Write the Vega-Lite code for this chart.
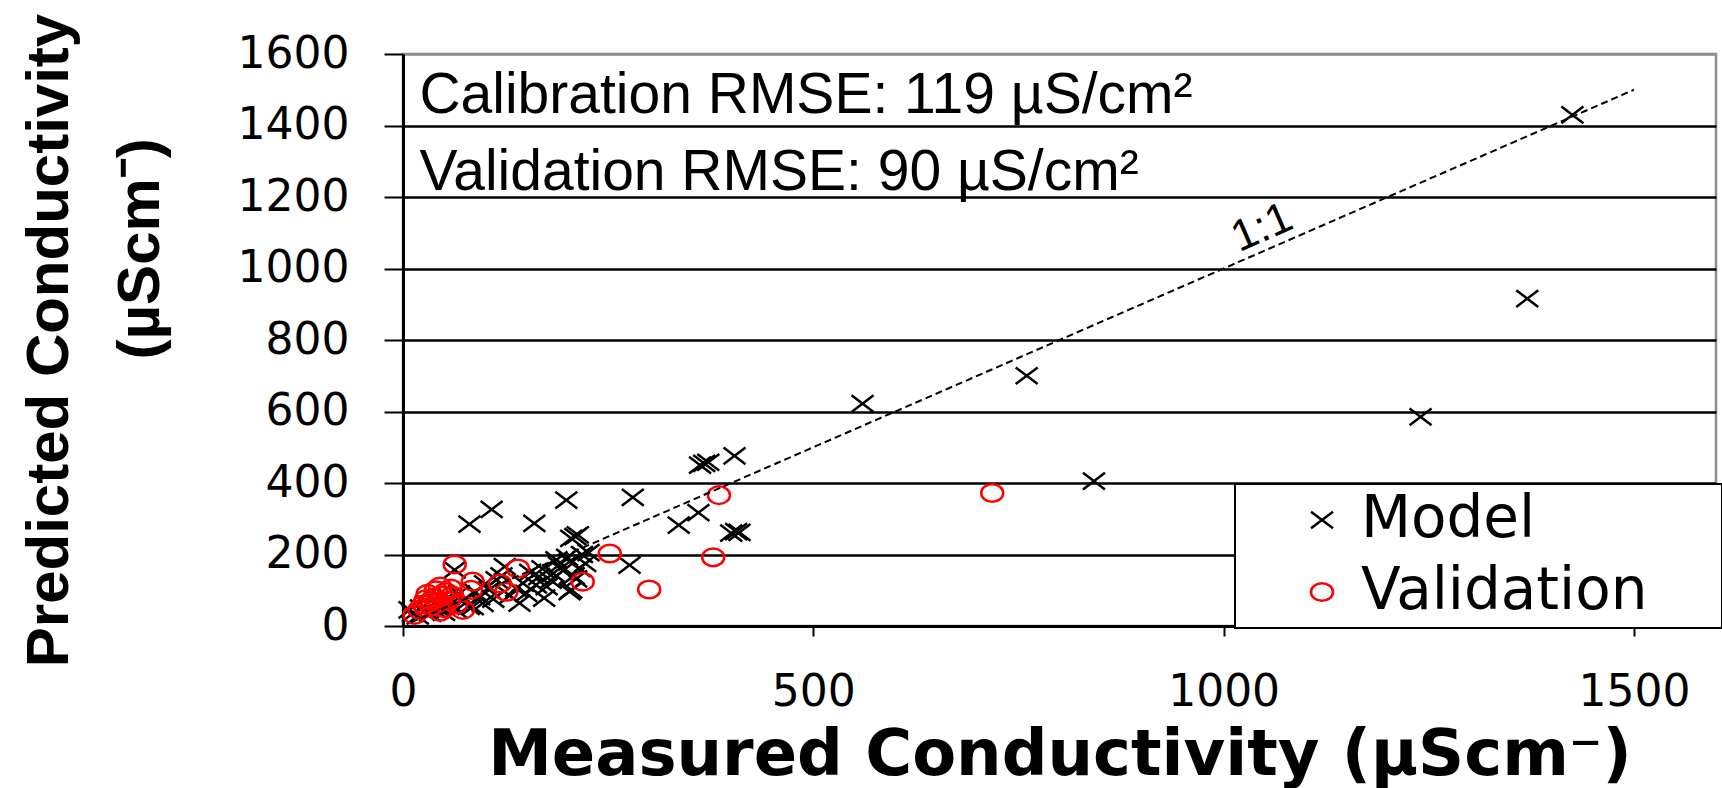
{
  "$schema": "https://vega.github.io/schema/vega-lite/v6.json",
  "width": 1313,
  "height": 572,
  "autosize": {"type": "none"},
  "padding": {"left": 403, "top": 54, "right": 6, "bottom": 162},
  "background": "white",
  "config": {
    "view": {"stroke": "#8c8c8c", "strokeWidth": 2.5},
    "legend": {"strokeWidth": 2}
  },
  "datasets": {
    "pts": [
      {"x": 1425, "y": 1430, "series": "Model"},
      {"x": 1370, "y": 916, "series": "Model"},
      {"x": 1240, "y": 585, "series": "Model"},
      {"x": 842, "y": 405, "series": "Model"},
      {"x": 760, "y": 700, "series": "Model"},
      {"x": 560, "y": 622, "series": "Model"},
      {"x": 404, "y": 476, "series": "Model"},
      {"x": 362, "y": 450, "series": "Model"},
      {"x": 367, "y": 455, "series": "Model"},
      {"x": 372, "y": 458, "series": "Model"},
      {"x": 360, "y": 317, "series": "Model"},
      {"x": 336, "y": 282, "series": "Model"},
      {"x": 400, "y": 260, "series": "Model"},
      {"x": 406, "y": 264, "series": "Model"},
      {"x": 410, "y": 262, "series": "Model"},
      {"x": 280, "y": 360, "series": "Model"},
      {"x": 276, "y": 170, "series": "Model"},
      {"x": 199, "y": 352, "series": "Model"},
      {"x": 160, "y": 287, "series": "Model"},
      {"x": 108, "y": 326, "series": "Model"},
      {"x": 81, "y": 285, "series": "Model"},
      {"x": 205, "y": 245, "series": "Model"},
      {"x": 210, "y": 250, "series": "Model"},
      {"x": 213, "y": 255, "series": "Model"},
      {"x": 203, "y": 96, "series": "Model"},
      {"x": 8, "y": 45, "series": "Model"},
      {"x": 12, "y": 35, "series": "Model"},
      {"x": 18, "y": 28, "series": "Model"},
      {"x": 22, "y": 50, "series": "Model"},
      {"x": 25, "y": 40, "series": "Model"},
      {"x": 30, "y": 62, "series": "Model"},
      {"x": 33, "y": 35, "series": "Model"},
      {"x": 38, "y": 48, "series": "Model"},
      {"x": 42, "y": 70, "series": "Model"},
      {"x": 45, "y": 55, "series": "Model"},
      {"x": 50, "y": 38, "series": "Model"},
      {"x": 55, "y": 80, "series": "Model"},
      {"x": 58, "y": 62, "series": "Model"},
      {"x": 63, "y": 157, "series": "Model"},
      {"x": 65, "y": 45, "series": "Model"},
      {"x": 68, "y": 90, "series": "Model"},
      {"x": 72, "y": 70, "series": "Model"},
      {"x": 80, "y": 55, "series": "Model"},
      {"x": 85, "y": 54, "series": "Model"},
      {"x": 88, "y": 95, "series": "Model"},
      {"x": 93, "y": 82, "series": "Model"},
      {"x": 97, "y": 63, "series": "Model"},
      {"x": 100, "y": 118, "series": "Model"},
      {"x": 105, "y": 101, "series": "Model"},
      {"x": 110, "y": 75, "series": "Model"},
      {"x": 114, "y": 129, "series": "Model"},
      {"x": 120, "y": 140, "series": "Model"},
      {"x": 124, "y": 166, "series": "Model"},
      {"x": 130, "y": 85, "series": "Model"},
      {"x": 138, "y": 105, "series": "Model"},
      {"x": 142, "y": 64, "series": "Model"},
      {"x": 146, "y": 120, "series": "Model"},
      {"x": 150, "y": 91, "series": "Model"},
      {"x": 155, "y": 150, "series": "Model"},
      {"x": 162, "y": 115, "series": "Model"},
      {"x": 166, "y": 138, "series": "Model"},
      {"x": 170, "y": 160, "series": "Model"},
      {"x": 172, "y": 78, "series": "Model"},
      {"x": 175, "y": 110, "series": "Model"},
      {"x": 180, "y": 128, "series": "Model"},
      {"x": 183, "y": 147, "series": "Model"},
      {"x": 187, "y": 185, "series": "Model"},
      {"x": 190, "y": 170, "series": "Model"},
      {"x": 195, "y": 155, "series": "Model"},
      {"x": 200, "y": 192, "series": "Model"},
      {"x": 203, "y": 180, "series": "Model"},
      {"x": 205, "y": 101, "series": "Model"},
      {"x": 208, "y": 140, "series": "Model"},
      {"x": 211, "y": 132, "series": "Model"},
      {"x": 215, "y": 161, "series": "Model"},
      {"x": 218, "y": 200, "series": "Model"},
      {"x": 222, "y": 175, "series": "Model"},
      {"x": 226, "y": 205, "series": "Model"},
      {"x": 718, "y": 372, "series": "Validation"},
      {"x": 385, "y": 366, "series": "Validation"},
      {"x": 378, "y": 192, "series": "Validation"},
      {"x": 300, "y": 102, "series": "Validation"},
      {"x": 252, "y": 203, "series": "Validation"},
      {"x": 219, "y": 124, "series": "Validation"},
      {"x": 140, "y": 161, "series": "Validation"},
      {"x": 126, "y": 96, "series": "Validation"},
      {"x": 118, "y": 119, "series": "Validation"},
      {"x": 85, "y": 124, "series": "Validation"},
      {"x": 83, "y": 101, "series": "Validation"},
      {"x": 63, "y": 172, "series": "Validation"},
      {"x": 73, "y": 45, "series": "Validation"},
      {"x": 14, "y": 31, "series": "Validation"},
      {"x": 20, "y": 45, "series": "Validation"},
      {"x": 25, "y": 60, "series": "Validation"},
      {"x": 28, "y": 75, "series": "Validation"},
      {"x": 30, "y": 90, "series": "Validation"},
      {"x": 35, "y": 55, "series": "Validation"},
      {"x": 38, "y": 80, "series": "Validation"},
      {"x": 40, "y": 100, "series": "Validation"},
      {"x": 42, "y": 65, "series": "Validation"},
      {"x": 45, "y": 110, "series": "Validation"},
      {"x": 48, "y": 85, "series": "Validation"},
      {"x": 50, "y": 50, "series": "Validation"},
      {"x": 52, "y": 95, "series": "Validation"},
      {"x": 55, "y": 70, "series": "Validation"},
      {"x": 58, "y": 105, "series": "Validation"},
      {"x": 60, "y": 85, "series": "Validation"},
      {"x": 65, "y": 60, "series": "Validation"},
      {"x": 45, "y": 40, "series": "Validation"},
      {"x": 35, "y": 70, "series": "Validation"},
      {"x": 28, "y": 50, "series": "Validation"}
    ],
    "oneone": [
      {"x": 10, "y": 10},
      {"x": 1500, "y": 1500}
    ],
    "notes": [
      {"x": 20, "y": 1436, "label": "Calibration RMSE: 119 µS/cm²"},
      {"x": 20, "y": 1220, "label": "Validation RMSE: 90 µS/cm²"}
    ],
    "ratio": [
      {"x": 1047, "y": 1113, "label": "1:1"}
    ]
  },
  "layer": [
    {
      "data": {"name": "pts"},
      "mark": {"type": "point", "filled": false, "strokeWidth": 2.5, "size": 484, "opacity": 1},
      "encoding": {
        "x": {
          "field": "x", "type": "quantitative",
          "scale": {"domain": [0, 1600], "nice": false, "zero": true},
          "axis": {
            "values": [0, 500, 1000, 1500],
            "format": "d",
            "grid": false,
            "title": "Measured Conductivity (µScm⁻)",
            "titleFont": "DejaVu Sans", "titleFontSize": 64, "titleFontWeight": "bold", "titleColor": "black",
            "titlePadding": 9,
            "labelFont": "DejaVu Sans", "labelFontSize": 44, "labelColor": "black", "labelPadding": 34,
            "labelFlush": false,
            "tickSize": 10, "tickWidth": 2, "tickColor": "black",
            "domainColor": "black", "domainWidth": 3
          }
        },
        "y": {
          "field": "y", "type": "quantitative",
          "scale": {"domain": [0, 1600], "nice": false},
          "axis": {
            "values": [0, 200, 400, 600, 800, 1000, 1200, 1400, 1600],
            "format": "d",
            "grid": true,
            "gridColor": {"condition": {"test": "datum.value === 1600", "value": "#8c8c8c"}, "value": "black"},
            "gridWidth": 2.5, "gridOpacity": 1,
            "title": ["Predicted Conductivity", "\u200b\u00a0\u00a0\u00a0\u00a0\u00a0\u00a0\u00a0\u00a0\u00a0\u00a0\u00a0(µScm⁻)"],
            "titleFont": "Liberation Sans", "titleFontSize": 60, "titleFontWeight": "bold", "titleColor": "black",
            "titleLineHeight": 91,
            "titlePadding": 66,
            "labelFont": "DejaVu Sans", "labelFontSize": 44, "labelColor": "black", "labelPadding": 35,
            "labelFlush": false,
            "tickSize": 19, "tickWidth": 2, "tickColor": "black",
            "domainColor": "black", "domainWidth": 3
          }
        },
        "shape": {
          "field": "series", "type": "nominal",
          "scale": {"domain": ["Model", "Validation"], "range": ["M-1,-0.76L1,0.76M-1,0.76L1,-0.76", "M1,0A1,0.8,0,1,1,-1,0A1,0.8,0,1,1,1,0Z"]},
          "legend": {
            "title": null,
            "orient": "none", "legendX": 832, "legendY": 430,
            "padding": 7, "symbolOffset": 51, "labelOffset": 10, "rowPadding": 14,
            "labelFont": "DejaVu Sans", "labelFontSize": 58, "labelColor": "black",
            "labelExpr": "datum.label + '\u00a0\u00a0\u00a0\u2009\u200b'",
            "labelLimit": 600,
            "symbolSize": 484, "symbolStrokeWidth": 2.5,
            "fillColor": "white", "strokeColor": "black"
          }
        },
        "color": {
          "field": "series", "type": "nominal",
          "scale": {"domain": ["Model", "Validation"], "range": ["black", "#ff0000"]},
          "legend": {
            "title": null,
            "orient": "none", "legendX": 832, "legendY": 430,
            "padding": 7, "symbolOffset": 51, "labelOffset": 10, "rowPadding": 14,
            "labelFont": "DejaVu Sans", "labelFontSize": 58, "labelColor": "black",
            "labelExpr": "datum.label + '\u00a0\u00a0\u00a0\u2009\u200b'",
            "labelLimit": 600,
            "symbolSize": 484, "symbolStrokeWidth": 2.5,
            "fillColor": "white", "strokeColor": "black"
          }
        },
        "order": {"field": "series", "type": "nominal"}
      }
    },
    {
      "data": {"name": "oneone"},
      "mark": {"type": "line", "color": "black", "strokeWidth": 2, "strokeDash": [7, 4]},
      "encoding": {
        "x": {"field": "x", "type": "quantitative"},
        "y": {"field": "y", "type": "quantitative"}
      }
    },
    {
      "data": {"name": "notes"},
      "mark": {"type": "text", "align": "left", "baseline": "alphabetic", "font": "Liberation Sans", "fontSize": 57, "color": "black"},
      "encoding": {
        "x": {"field": "x", "type": "quantitative"},
        "y": {"field": "y", "type": "quantitative"},
        "text": {"field": "label"}
      }
    },
    {
      "data": {"name": "ratio"},
      "mark": {"type": "text", "align": "center", "baseline": "middle", "font": "Liberation Sans", "fontSize": 44, "angle": -23.5, "color": "black"},
      "encoding": {
        "x": {"field": "x", "type": "quantitative"},
        "y": {"field": "y", "type": "quantitative"},
        "text": {"field": "label"}
      }
    }
  ]
}
